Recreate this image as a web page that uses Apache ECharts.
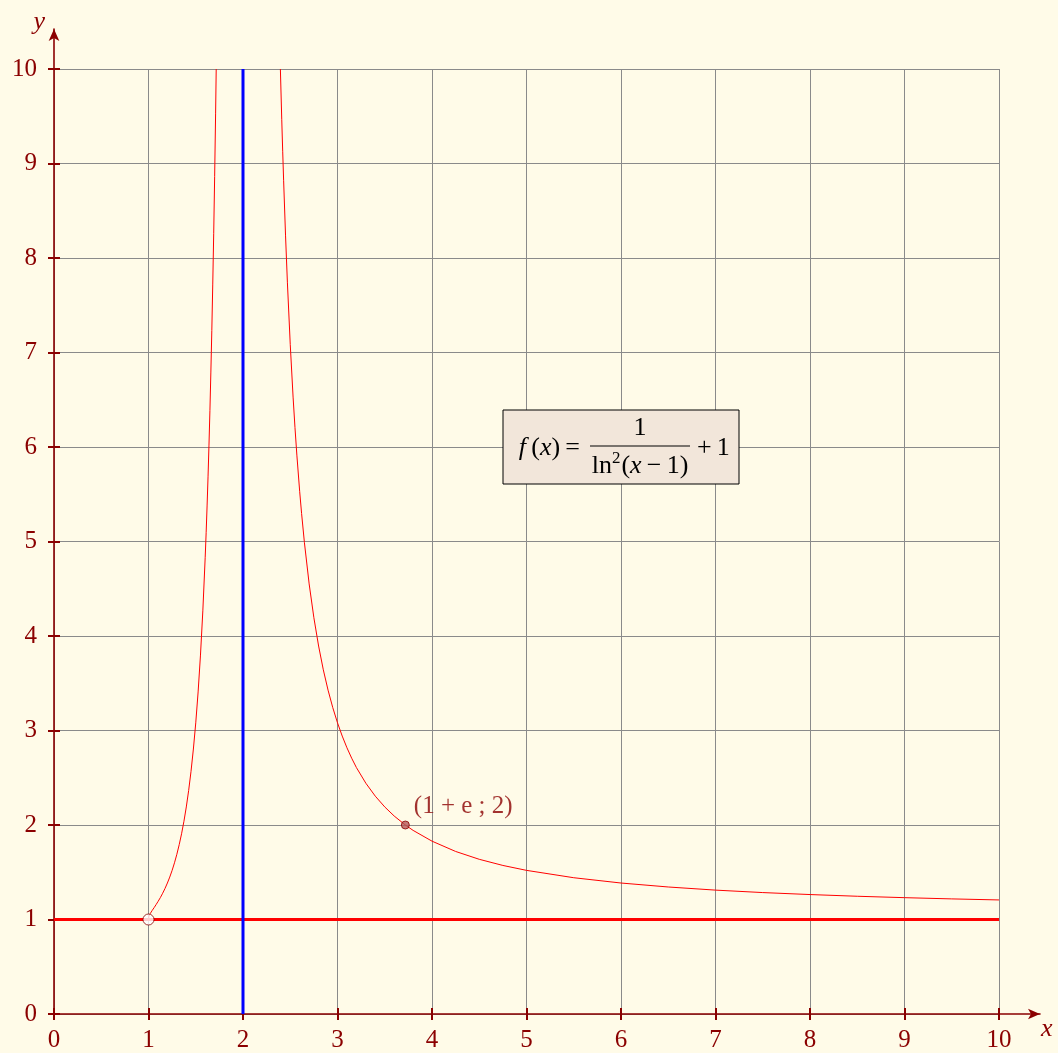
<!DOCTYPE html>
<html><head><meta charset="utf-8">
<script src="https://cdn.jsdelivr.net/npm/echarts@6/dist/echarts.min.js"></script>
<style>html,body{margin:0;padding:0;background:#fffbe8}#c{width:1058px;height:1053px}</style>
</head><body><div id="c"></div>
<script>
// ---- data ----
const xTickValues = [0, 1, 2, 3, 4, 5, 6, 7, 8, 9, 10];
const yTickValues = [0, 1, 2, 3, 4, 5, 6, 7, 8, 9, 10];
const xTickLabels = ['0', '1', '2', '3', '4', '5', '6', '7', '8', '9', '10'];
const yTickLabels = ['0', '1', '2', '3', '4', '5', '6', '7', '8', '9', '10'];

// left branch of the curve (1 < x < 2)
const leftBranchX = [1.0, 1.001, 1.0025, 1.005, 1.01, 1.015, 1.02, 1.03, 1.04, 1.05, 1.06, 1.08, 1.1, 1.125, 1.15, 1.175, 1.2, 1.225, 1.25, 1.275, 1.3, 1.325, 1.35, 1.375, 1.4, 1.425, 1.45, 1.475, 1.5, 1.525, 1.55, 1.575, 1.6, 1.61, 1.62, 1.63, 1.64, 1.65, 1.66, 1.67, 1.68, 1.69, 1.7, 1.71, 1.7165];
const leftBranchY = [1.0, 1.021, 1.028, 1.036, 1.047, 1.057, 1.065, 1.081, 1.097, 1.111, 1.126, 1.157, 1.189, 1.231, 1.278, 1.329, 1.386, 1.449, 1.52, 1.6, 1.69, 1.792, 1.907, 2.04, 2.191, 2.366, 2.568, 2.804, 3.081, 3.408, 3.798, 4.266, 4.833, 5.093, 5.376, 5.684, 6.02, 6.388, 6.793, 7.234, 7.724, 8.262, 8.861, 9.525, 10.0];
// right branch of the curve (x > 2)
const rightBranchX = [2.3956, 2.41, 2.42, 2.43, 2.45, 2.47, 2.5, 2.53, 2.55, 2.57, 2.6, 2.62, 2.65, 2.7, 2.75, 2.8, 2.85, 2.9, 2.95, 3.0, 3.05, 3.1, 3.15, 3.2, 3.3, 3.4, 3.5, 3.6, 3.718, 3.8, 4.0, 4.25, 4.5, 4.75, 5.0, 5.5, 6.0, 6.5, 7.0, 7.5, 8.0, 8.5, 9.0, 9.5, 10.0];
const rightBranchY = [10.0, 9.468, 9.13, 8.817, 8.242, 7.737, 7.083, 6.528, 6.206, 5.914, 5.527, 5.297, 4.987, 4.551, 4.193, 3.894, 3.642, 3.427, 3.242, 3.081, 2.941, 2.817, 2.707, 2.608, 2.442, 2.305, 2.191, 2.095, 2.0, 1.943, 1.829, 1.72, 1.637, 1.572, 1.52, 1.442, 1.386, 1.344, 1.311, 1.285, 1.264, 1.246, 1.231, 1.218, 1.207];

// asymptotes
const horizAsymX = [0, 10];
const horizAsymY = [1, 1];
const vertAsymX = [2, 2];
const vertAsymY = [0, 10];

// special points
const holePoint = [1, 1];
const markedPoint = [3.718, 2];
const markedLabel = '(1 + e ; 2)';
const formulaAnchor = [6, 6];

// ---- chart ----
const DR = '#8B0000';
const FONT = 'Liberation Serif';
const zip = (xs, ys) => xs.map((x, i) => [x, ys[i]]);

const chart = echarts.init(document.getElementById('c'), null, {renderer: 'canvas'});

const option = {
  animation: false,
  backgroundColor: '#fffbe8',
  grid: [
    {left: 54, top: 69, width: 945, height: 945},
    {left: 54, top: 29, width: 986, height: 985}
  ],
  xAxis: [
    {
      type: 'value', gridIndex: 0, min: 0, max: 10, interval: 1, offset: -6,
      axisLine: {show: false, onZero: false},
      axisTick: {show: true, length: 12, lineStyle: {color: DR, width: 2}},
      axisLabel: {
        margin: 20, color: DR, fontFamily: FONT, fontSize: 25,
        formatter: v => xTickLabels[xTickValues.indexOf(v)] ?? ''
      },
      splitLine: {show: true, lineStyle: {color: '#8a8a8a', width: 1}}
    },
    {
      type: 'value', gridIndex: 1, min: 0, max: 10.43, z: 3,
      axisLine: {show: true, onZero: false, symbol: ['none', 'arrow'], symbolSize: [8, 12],
        lineStyle: {color: DR, width: 1.6}},
      axisTick: {show: false}, axisLabel: {show: false}, splitLine: {show: false},
      name: 'x', nameLocation: 'end', nameGap: 1,
      nameTextStyle: {color: DR, fontFamily: FONT, fontStyle: 'italic', fontSize: 26,
        align: 'left', verticalAlign: 'top', padding: [2, 0, 0, 0]}
    }
  ],
  yAxis: [
    {
      type: 'value', gridIndex: 0, min: 0, max: 10, interval: 1, offset: -6,
      axisLine: {show: false, onZero: false},
      axisTick: {show: true, length: 12, lineStyle: {color: DR, width: 2}},
      axisLabel: {
        margin: 23, color: DR, fontFamily: FONT, fontSize: 25,
        formatter: v => yTickLabels[yTickValues.indexOf(v)] ?? ''
      },
      splitLine: {show: true, lineStyle: {color: '#8a8a8a', width: 1}}
    },
    {
      type: 'value', gridIndex: 1, min: 0, max: 10.42, z: 3,
      axisLine: {show: true, onZero: false, symbol: ['none', 'arrow'], symbolSize: [8, 12],
        lineStyle: {color: DR, width: 1.6}},
      axisTick: {show: false}, axisLabel: {show: false}, splitLine: {show: false},
      name: 'y', nameLocation: 'end', nameGap: 7,
      nameTextStyle: {color: DR, fontFamily: FONT, fontStyle: 'italic', fontSize: 26,
        align: 'right', verticalAlign: 'middle', padding: [0, 9, 0, 0]}
    }
  ],
  series: [
    {
      type: 'line', xAxisIndex: 0, yAxisIndex: 0, z: 4, silent: true,
      data: zip(horizAsymX, horizAsymY), symbol: 'none',
      lineStyle: {color: '#ff0000', width: 3}
    },
    {
      type: 'line', xAxisIndex: 0, yAxisIndex: 0, z: 5, silent: true,
      data: zip(vertAsymX, vertAsymY), symbol: 'none',
      lineStyle: {color: '#0000ff', width: 3}
    },
    {
      type: 'line', xAxisIndex: 0, yAxisIndex: 0, z: 6, silent: true,
      data: zip(leftBranchX, leftBranchY), symbol: 'none', smooth: false,
      lineStyle: {color: '#ff0000', width: 1}
    },
    {
      type: 'line', xAxisIndex: 0, yAxisIndex: 0, z: 6, silent: true,
      data: zip(rightBranchX, rightBranchY), symbol: 'none', smooth: false,
      lineStyle: {color: '#ff0000', width: 1}
    },
    {
      type: 'scatter', xAxisIndex: 0, yAxisIndex: 0, z: 8, silent: true,
      data: [holePoint], symbol: 'circle', symbolSize: 11,
      itemStyle: {color: '#ffffff', borderColor: DR, borderWidth: 1}
    },
    {
      type: 'scatter', xAxisIndex: 0, yAxisIndex: 0, z: 8, silent: true,
      data: [markedPoint], symbol: 'circle', symbolSize: 8,
      itemStyle: {color: '#b45a5a', borderColor: DR, borderWidth: 1},
      label: {
        show: true, formatter: () => markedLabel, position: [13, -14],
        align: 'left', verticalAlign: 'middle',
        color: DR, fontFamily: FONT, fontSize: 25
      }
    }
  ]
};
chart.setOption(option);

// formula box anchored on a data position via the chart's own scale
const c = chart.convertToPixel({gridIndex: 0}, formulaAnchor);
const cx = c[0], cy = c[1];
const ft = {fontFamily: FONT, fontSize: 26, fill: '#000'};
chart.setOption({
  graphic: [
    {type: 'rect', z: 20, shape: {x: cx - 118, y: cy - 37, width: 236, height: 74},
      style: {fill: '#f2e6da', stroke: '#000', lineWidth: 1}},
    {type: 'text', z: 21, x: cx - 41, y: cy + 1,
      style: Object.assign({}, ft, {text: '{i|f}\u2009({i|x})\u2009=', align: 'right', verticalAlign: 'middle',
        rich: {i: {fontStyle: 'italic', fontFamily: FONT, fontSize: 26}}})},
    {type: 'text', z: 21, x: cx + 19, y: cy - 19,
      style: Object.assign({}, ft, {text: '1', align: 'center', verticalAlign: 'middle'})},
    {type: 'line', z: 21, shape: {x1: cx - 31, y1: cy - 1, x2: cx + 69, y2: cy - 1},
      style: {stroke: '#000', lineWidth: 1}},
    {type: 'text', z: 21, x: cx + 19, y: cy + 19,
      style: Object.assign({}, ft, {text: 'ln{s|2}({i|x}\u2009\u2212\u20091)', align: 'center', verticalAlign: 'middle',
        rich: {
          i: {fontStyle: 'italic', fontFamily: FONT, fontSize: 26},
          s: {fontFamily: FONT, fontSize: 17, padding: [0, 1, 14, 0]}
        }})},
    {type: 'text', z: 21, x: cx + 76, y: cy + 1,
      style: Object.assign({}, ft, {text: '+\u20091', align: 'left', verticalAlign: 'middle'})}
  ]
});
</script>
</body></html>
